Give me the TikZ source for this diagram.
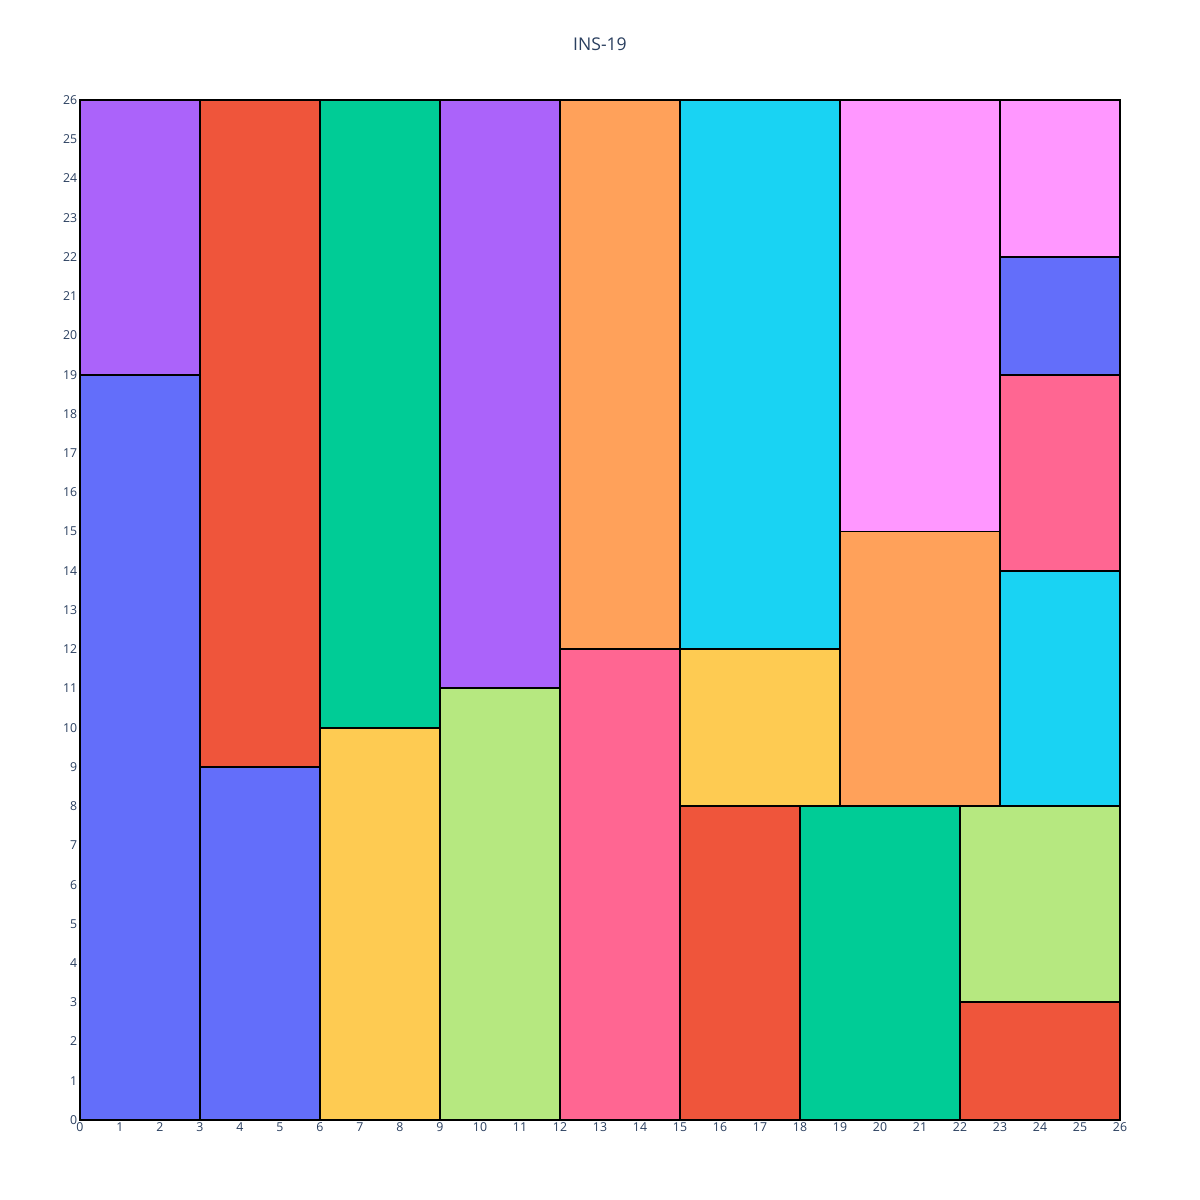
\documentclass[tikz,border=0pt]{standalone}
\usepackage{fontspec}
\setmainfont{Open Sans}
\usepackage{tikz}
\definecolor{pblue}{HTML}{636EFA}
\definecolor{ppurple}{HTML}{AB63FA}
\definecolor{pred}{HTML}{EF553B}
\definecolor{pgreen}{HTML}{00CC96}
\definecolor{pyellow}{HTML}{FECB52}
\definecolor{plime}{HTML}{B6E880}
\definecolor{ppink}{HTML}{FF6692}
\definecolor{porange}{HTML}{FFA15A}
\definecolor{pcyan}{HTML}{19D3F3}
\definecolor{pmagenta}{HTML}{FF97FF}
\definecolor{axes}{HTML}{2A3F5F}

\begin{document}
\begin{tikzpicture}[x=0.8cm, y=0.78462cm,
    piece/.style={draw=black, line width=1.1pt}]
  \useasboundingbox (-2, -2.0392) rectangle (28, 28.5490);
  \fill[white] (-2, -2.0392) rectangle (28, 28.5490);

  % Title
  \node[axes, font=\fontsize{10}{12}\selectfont] at (13, 27.4196) {INS-19};

  % Column 0-3
  \filldraw[piece, fill=pblue] (0, 0) rectangle (3, 19);
  \filldraw[piece, fill=ppurple] (0, 19) rectangle (3, 26);
  % Column 3-6
  \filldraw[piece, fill=pblue] (3, 0) rectangle (6, 9);
  \filldraw[piece, fill=pred] (3, 9) rectangle (6, 26);
  % Column 6-9
  \filldraw[piece, fill=pyellow] (6, 0) rectangle (9, 10);
  \filldraw[piece, fill=pgreen] (6, 10) rectangle (9, 26);
  % Column 9-12
  \filldraw[piece, fill=plime] (9, 0) rectangle (12, 11);
  \filldraw[piece, fill=ppurple] (9, 11) rectangle (12, 26);
  % Column 12-15
  \filldraw[piece, fill=ppink] (12, 0) rectangle (15, 12);
  \filldraw[piece, fill=porange] (12, 12) rectangle (15, 26);
  % Block 15-19
  \filldraw[piece, fill=pred] (15, 0) rectangle (18, 8);
  \filldraw[piece, fill=pyellow] (15, 8) rectangle (19, 12);
  \filldraw[piece, fill=pcyan] (15, 12) rectangle (19, 26);
  % Block 18-23
  \filldraw[piece, fill=pgreen] (18, 0) rectangle (22, 8);
  \filldraw[piece, fill=porange] (19, 8) rectangle (23, 15);
  \filldraw[piece, fill=pmagenta] (19, 15) rectangle (23, 26);
  % Block 22-26
  \filldraw[piece, fill=pred] (22, 0) rectangle (26, 3);
  \filldraw[piece, fill=plime] (22, 3) rectangle (26, 8);
  \filldraw[piece, fill=pcyan] (23, 8) rectangle (26, 14);
  \filldraw[piece, fill=ppink] (23, 14) rectangle (26, 19);
  \filldraw[piece, fill=pblue] (23, 19) rectangle (26, 22);
  \filldraw[piece, fill=pmagenta] (23, 22) rectangle (26, 26);

  % Tick labels
  \foreach \k in {0,...,26} {
    \node[axes, font=\fontsize{7}{8}\selectfont, below, inner sep=1pt] at (\k, -0.02) {\k};
    \node[axes, font=\fontsize{7}{8}\selectfont, left, inner sep=1pt] at (-0.02, \k) {\k};
  }
\end{tikzpicture}
\end{document}
